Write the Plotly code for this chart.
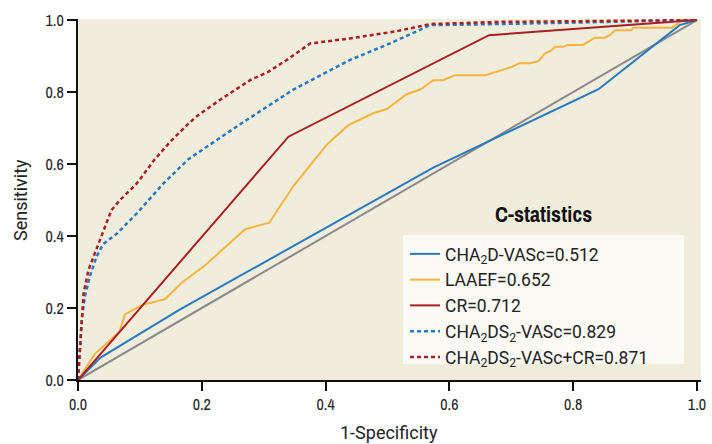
import plotly.graph_objects as go

# ---- data ----
ref_x = [0.0, 1.0]
ref_y = [0.0, 1.0]

cha2d_x = [0.0, 0.037, 0.165, 0.574, 0.841, 0.972, 1.0]
cha2d_y = [0.0, 0.063, 0.196, 0.590, 0.808, 0.986, 1.0]

laaef_x = [0.0, 0.027, 0.067, 0.076, 0.103, 0.141, 0.168, 0.205, 0.270, 0.309, 0.348,
           0.403, 0.437, 0.477, 0.499, 0.531, 0.553, 0.574, 0.590, 0.609, 0.658,
           0.701, 0.713, 0.730, 0.744, 0.754, 0.763, 0.771, 0.784, 0.791, 0.816,
           0.824, 0.835, 0.851, 0.859, 0.868, 0.894, 0.897, 0.959, 0.970, 0.975, 1.0]
laaef_y = [0.0, 0.072, 0.134, 0.182, 0.208, 0.225, 0.271, 0.318, 0.419, 0.437, 0.539,
           0.656, 0.708, 0.741, 0.753, 0.794, 0.807, 0.833, 0.833, 0.847, 0.847,
           0.870, 0.880, 0.880, 0.886, 0.907, 0.914, 0.926, 0.926, 0.931, 0.931,
           0.940, 0.951, 0.951, 0.958, 0.972, 0.972, 0.979, 0.979, 0.991, 1.0, 1.0]

cr_x = [0.0, 0.340, 0.664, 0.972, 1.0]
cr_y = [0.0, 0.676, 0.958, 0.995, 1.0]

cha2ds2_x = [0.0, 0.006, 0.011, 0.019, 0.030, 0.041, 0.063, 0.095, 0.138, 0.178,
             0.264, 0.310, 0.348, 0.439, 0.504, 0.569, 0.682, 1.0]
cha2ds2_y = [0.0, 0.167, 0.231, 0.287, 0.343, 0.378, 0.407, 0.463, 0.546, 0.613,
             0.713, 0.764, 0.807, 0.889, 0.935, 0.986, 0.989, 1.0]

combo_x = [0.0, 0.003, 0.009, 0.017, 0.025, 0.038, 0.054, 0.068, 0.095, 0.124,
           0.149, 0.176, 0.192, 0.229, 0.278, 0.307, 0.337, 0.375, 0.439, 0.515,
           0.569, 0.682, 1.0]
combo_y = [0.0, 0.083, 0.241, 0.306, 0.343, 0.398, 0.472, 0.500, 0.546, 0.613,
           0.662, 0.708, 0.733, 0.778, 0.833, 0.856, 0.889, 0.935, 0.949, 0.969,
           0.989, 0.995, 1.0]

names = ["CHA<sub>2</sub>D-VASc=0.512", "LAAEF=0.652", "CR=0.712",
         "CHA<sub>2</sub>DS<sub>2</sub>-VASc=0.829",
         "CHA<sub>2</sub>DS<sub>2</sub>-VASc+CR=0.871"]
tick_vals = [0.0, 0.2, 0.4, 0.6, 0.8, 1.0]
tick_text = ["0.0", "0.2", "0.4", "0.6", "0.8", "1.0"]

BLUE = "#2a78bf"
ORANGE = "#fbb33f"
RED = "#a81f24"
GRAY = "#8a8a8a"
SANS = "Roboto"
NARROW = "Archivo Narrow, Roboto"

# plot area in pixels: x 78..701, y 19..380
PW, PH = 623.0, 361.0
def px(xp):
    return (xp - 78) / PW
def py(yp):
    return (380 - yp) / PH

fig = go.Figure()
fig.add_trace(go.Scatter(x=ref_x, y=ref_y, mode="lines", showlegend=False,
                         line=dict(color=GRAY, width=2), hoverinfo="skip"))
fig.add_trace(go.Scatter(x=cha2d_x, y=cha2d_y, mode="lines", name=names[0],
                         line=dict(color=BLUE, width=2)))
fig.add_trace(go.Scatter(x=laaef_x, y=laaef_y, mode="lines", name=names[1],
                         line=dict(color=ORANGE, width=2)))
fig.add_trace(go.Scatter(x=cr_x, y=cr_y, mode="lines", name=names[2],
                         line=dict(color=RED, width=2)))
fig.add_trace(go.Scatter(x=cha2ds2_x, y=cha2ds2_y, mode="lines", name=names[3],
                         line=dict(color=BLUE, width=2.5, dash="4px,3px")))
fig.add_trace(go.Scatter(x=combo_x, y=combo_y, mode="lines", name=names[4],
                         line=dict(color=RED, width=2.5, dash="4px,3px")))

# legend background box
fig.add_shape(type="rect", xref="paper", yref="paper", layer="above",
              x0=px(403), x1=px(684), y0=py(364), y1=py(235),
              fillcolor="rgba(251,250,246,0.96)", line=dict(width=0))

fig.add_annotation(text="<b>C-statistics</b>", x=px(543), y=py(214), xref="paper", yref="paper",
                   showarrow=False, xanchor="center", yanchor="middle",
                   font=dict(family=NARROW, size=22, color="#111111"))
fig.add_annotation(text="1-Specificity", x=px(389), y=py(432),
                   xref="paper", yref="paper", showarrow=False,
                   xanchor="center", yanchor="middle",
                   font=dict(family=SANS, size=18, color="#222222"))
fig.add_annotation(text="Sensitivity", x=px(20), y=py(200),
                   xref="paper", yref="paper", showarrow=False, textangle=-90,
                   xanchor="center", yanchor="middle",
                   font=dict(family=SANS, size=18, color="#222222"))

fig.update_layout(
    width=712, height=444,
    margin=dict(l=78, r=11, t=19, b=64, autoexpand=False),
    paper_bgcolor="white",
    plot_bgcolor="#f1eddc",
    font=dict(family=SANS, size=17, color="#222222"),
    legend=dict(x=px(405), y=py(236), xanchor="left", yanchor="top",
                bgcolor="rgba(0,0,0,0)", borderwidth=0,
                font=dict(family=SANS, size=17.5, color="#222222"),
                itemwidth=30),
    showlegend=True,
)
fig.update_xaxes(range=[0, 1.0065], tickvals=tick_vals, ticktext=tick_text, automargin=False,
                 showgrid=False, zeroline=False, showline=True, linecolor="#111111",
                 linewidth=2, ticks="outside", ticklen=9, tickwidth=1.5, tickcolor="#111111",
                 tickfont=dict(family=NARROW, size=16, color="#222222"))
fig.update_yaxes(range=[0, 1.003], tickvals=tick_vals, ticktext=tick_text, automargin=False,
                 showgrid=False, zeroline=False, showline=True, linecolor="#111111",
                 linewidth=2, ticks="outside", ticklen=9, tickwidth=1.5, tickcolor="#111111",
                 tickfont=dict(family=NARROW, size=16, color="#222222"))

fig.write_html("out.html")
